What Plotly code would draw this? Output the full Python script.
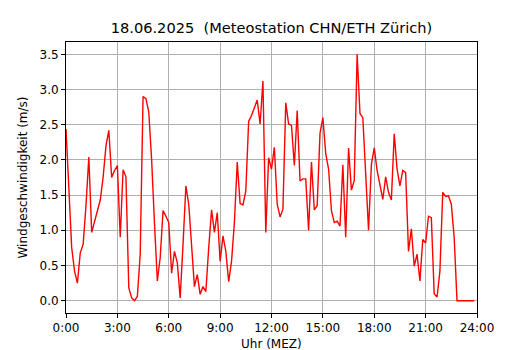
import plotly.graph_objects as go

# 10-minute wind speed values (m/s), 00:00 .. 23:50
wind = [
    2.44, 1.55, 0.75, 0.42, 0.25, 0.68, 0.80, 1.35, 2.04, 0.97,
    1.13, 1.28, 1.43, 1.75, 2.20, 2.42, 1.75, 1.85, 1.92, 0.90,
    1.86, 1.76, 0.18, 0.04, 0.00, 0.06, 0.66, 2.90, 2.87, 2.68,
    2.00, 1.10, 0.28, 0.61, 1.28, 1.20, 1.11, 0.39, 0.70, 0.54,
    0.04, 0.80, 1.63, 1.37, 0.80, 0.20, 0.37, 0.09, 0.20, 0.13,
    0.75, 1.29, 0.97, 1.25, 0.56, 0.92, 0.70, 0.27, 0.56, 1.11,
    1.97, 1.38, 1.36, 1.56, 2.55, 2.63, 2.74, 2.85, 2.51, 3.12,
    0.97, 2.03, 1.87, 2.18, 1.37, 1.19, 1.30, 2.81, 2.51, 2.49,
    1.92, 2.70, 1.70, 1.73, 1.73, 1.00, 1.97, 1.29, 1.35, 2.38,
    2.60, 2.09, 1.87, 1.28, 1.11, 1.13, 1.06, 1.93, 0.90, 2.17,
    1.57, 1.71, 3.50, 2.66, 2.60, 1.80, 1.00, 1.94, 2.17, 1.85,
    1.66, 1.44, 1.76, 1.54, 1.43, 2.37, 1.87, 1.63, 1.85, 1.82,
    0.70, 1.02, 0.49, 0.66, 0.28, 0.87, 0.82, 1.20, 1.18, 0.10,
    0.05, 0.42, 1.54, 1.48, 1.49, 1.37, 0.90, 0.00, 0.00, 0.00,
    0.00, 0.00, 0.00, 0.00,
]
hours = [i / 6 for i in range(len(wind))]

tick_hours = [0, 3, 6, 9, 12, 15, 18, 21, 24]
tick_labels = ["0:00", "3:00", "6:00", "9:00", "12:00", "15:00", "18:00", "21:00", "24:00"]
y_ticks = [0.0, 0.5, 1.0, 1.5, 2.0, 2.5, 3.0, 3.5]

title_text = "18.06.2025  (Meteostation CHN/ETH Zürich)"
x_title = "Uhr (MEZ)"
y_title = "Windgeschwindigkeit (m/s)"

# The page body has an 8px margin, so the figure is 8px smaller than the window
W, H = 522, 342
ML, MR, MT, MB = 58, 53, 34, 37
plot_w, plot_h = W - ML - MR, H - MT - MB

fig = go.Figure()
fig.add_trace(go.Scatter(x=hours, y=wind, mode="lines",
                         line=dict(color="#ff0000", width=1.4),
                         hoverinfo="skip", showlegend=False))

font = dict(family="DejaVu Sans", size=12, color="#000000")
axis_common = dict(showline=True, linecolor="#000000", linewidth=1, mirror=True,
                   ticks="outside", ticklen=4, tickwidth=1, tickcolor="#000000",
                   showgrid=True, gridcolor="#b0b0b0", gridwidth=1, zeroline=False,
                   tickfont=font, automargin=False)

fig.update_layout(
    template="none",
    width=W, height=H,
    margin=dict(l=ML, r=MR, t=MT, b=MB, pad=0),
    paper_bgcolor="#ffffff", plot_bgcolor="#ffffff",
    font=font,
    title=dict(text=title_text, x=0.5, xref="paper", xanchor="center",
               y=1 - 20 / H, yref="container", yanchor="middle",
               font=dict(family="DejaVu Sans", size=14.6, color="#000000")),
    xaxis=dict(range=[0, 24], tickvals=tick_hours, ticktext=tick_labels, **axis_common),
    yaxis=dict(range=[-0.175, 3.675], tickvals=y_ticks, tickformat=".1f", **axis_common),
    annotations=[
        dict(text=x_title, xref="paper", yref="paper", x=0.5, y=-31 / plot_h,
             xanchor="center", yanchor="middle", showarrow=False, font=font),
        dict(text=y_title, xref="paper", yref="paper", x=-44 / plot_w, y=0.5,
             xanchor="center", yanchor="middle", textangle=-90, showarrow=False, font=font),
    ],
)

fig.write_html("out.html")
